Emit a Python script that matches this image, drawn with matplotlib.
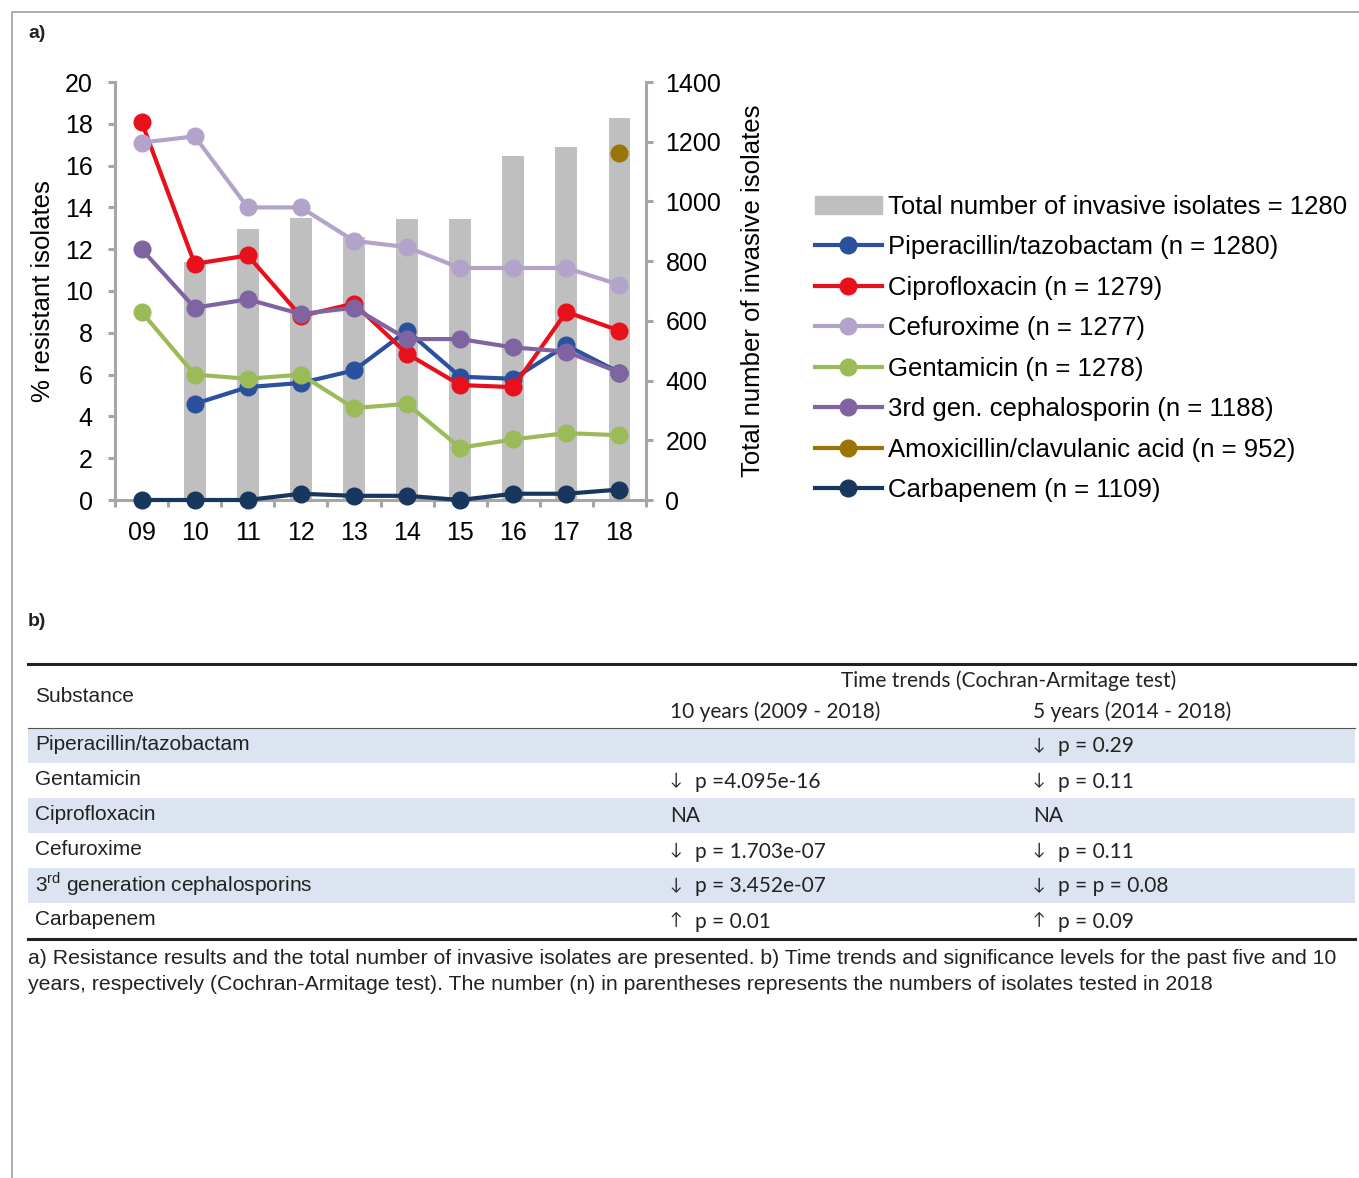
import numpy as np
import matplotlib
matplotlib.use('Agg')
import matplotlib.pyplot as plt
from matplotlib.lines import Line2D
from matplotlib.patches import Patch, Rectangle

plt.rcParams['font.family'] = ['Liberation Sans', 'DejaVu Sans']

# ---- data (panel a) ----
years = ['09', '10', '11', '12', '13', '14', '15', '16', '17', '18']
total_isolates = [0, 796, 907, 945, 882, 941, 941, 1153, 1182, 1280]

pip_taz = [np.nan, 4.6, 5.4, 5.6, 6.2, 8.1, 5.9, 5.8, 7.4, 6.1]
cipro = [18.1, 11.3, 11.7, 8.8, 9.4, 7.0, 5.5, 5.4, 9.0, 8.1]
cefuroxime = [17.1, 17.4, 14.0, 14.0, 12.4, 12.1, 11.1, 11.1, 11.1, 10.3]
gentamicin = [9.0, 6.0, 5.8, 6.0, 4.4, 4.6, 2.5, 2.9, 3.2, 3.1]
ceph3 = [12.0, 9.2, 9.6, 8.9, 9.2, 7.7, 7.7, 7.3, 7.1, 6.1]
amoxclav = [np.nan] * 9 + [16.6]
carbapenem = [0.0, 0.0, 0.0, 0.3, 0.2, 0.2, 0.0, 0.3, 0.3, 0.5]

series = [
    ('Piperacillin/tazobactam (n = 1280)', pip_taz, '#2A509E'),
    ('Ciprofloxacin (n = 1279)', cipro, '#E8111B'),
    ('Cefuroxime (n = 1277)', cefuroxime, '#B3A3CA'),
    ('Gentamicin (n = 1278)', gentamicin, '#9BBB59'),
    ('3rd gen. cephalosporin (n = 1188)', ceph3, '#8064A2'),
    ('Amoxicillin/clavulanic acid (n = 952)', amoxclav, '#9C7405'),
    ('Carbapenem (n = 1109)', carbapenem, '#17375E'),
]
bar_label = 'Total number of invasive isolates = 1280'

# ---- data (panel b) ----
substances = ['Piperacillin/tazobactam', 'Gentamicin', 'Ciprofloxacin', 'Cefuroxime',
              r'3$^{\mathregular{rd}}$ generation cephalosporins', 'Carbapenem']
trend_10y = ['', '↓', '', '↓', '↓', '↑']
p_10y = ['', 'p =4.095e-16', 'NA', 'p = 1.703e-07', 'p = 3.452e-07', 'p = 0.01']
trend_5y = ['↓', '↓', '', '↓', '↓', '↑']
p_5y = ['p = 0.29', 'p = 0.11', 'NA', 'p = 0.11', 'p = p = 0.08', 'p = 0.09']

caption = ['a) Resistance results and the total number of invasive isolates are presented. '
           'b) Time trends and significance levels for the past five and 10',
           'years, respectively (Cochran-Armitage test). The number (n) in parentheses '
           'represents the numbers of isolates tested in 2018']

W, H = 1359, 1178
fig = plt.figure(figsize=(W / 100, H / 100), dpi=100)

spine_col = '#A6A6A6'
x = np.arange(len(years))

ax = fig.add_axes([115 / W, 1 - 500 / H, 531 / W, 418 / H])
ax2 = ax.twinx()
ax.set_zorder(ax2.get_zorder() + 1)
ax.patch.set_visible(False)

ax2.bar(x, total_isolates, width=0.41, color='#BFBFBF', zorder=1)
ax2.set_ylim(0, 1400)
ax2.set_yticks(range(0, 1401, 200))

for name, vals, col in series:
    ax.plot(x, vals, color=col, lw=3, marker='o', ms=12, label=name, clip_on=False)

ax.set_ylim(0, 20)
ax.set_yticks(range(0, 21, 2))
ax.set_xlim(-0.5, 9.5)
ax.set_xticks(np.arange(-0.5, 10, 1))
ax.set_xticklabels([])
ax.set_xticks(x, minor=True)
ax.set_xticklabels(years, minor=True)

for a in (ax, ax2):
    for s in a.spines.values():
        s.set_visible(False)
ax.spines['left'].set_visible(True)
ax.spines['bottom'].set_visible(True)
ax2.spines['right'].set_visible(True)
for s in (ax.spines['left'], ax.spines['bottom'], ax2.spines['right']):
    s.set_color(spine_col)
    s.set_linewidth(2.2)
    s.set_zorder(0.5)

ax.tick_params(axis='y', which='major', length=5, width=2.2, color=spine_col, labelsize=18, pad=11)
ax.tick_params(axis='x', which='major', length=5, width=2.2, color=spine_col, direction='out')
ax.tick_params(axis='x', which='minor', length=0, labelsize=18, pad=15)
ax2.tick_params(axis='y', length=5, width=2.2, color=spine_col, labelsize=18, pad=9)

ax.set_ylabel('% resistant isolates', fontsize=18.5, labelpad=7)
ax2.set_ylabel('Total number of invasive isolates', fontsize=18.5, labelpad=14)

handles = [Patch(color='#BFBFBF')] + [
    Line2D([], [], color=c, lw=3, marker='o', ms=12) for _, _, c in series]
labels = [bar_label] + [n for n, _, _ in series]
fig.legend(handles, labels, loc='upper left', bbox_to_anchor=(815 / W, 1 - 195 / H),
           frameon=False, fontsize=18.5, handlelength=2.6, handletextpad=0.25,
           labelspacing=0.64, borderpad=0, borderaxespad=0)

# ---- overlay for frame, labels, table and caption ----
ov = fig.add_axes([0, 0, 1, 1], zorder=-5)
ov.set_xlim(0, W)
ov.set_ylim(H, 0)
ov.axis('off')

ov.plot([12, 12, W], [H, 12, 12], color='#A0A0A0', lw=1.2)
ov.text(28, 33, 'a)', fontsize=14, fontweight='bold', va='center', color='#222222')
ov.text(28, 622, 'b)', fontsize=14, fontweight='bold', va='center', color='#222222')

tx0, tx1 = 28, 1355
row_h = 35
row_top = 728
col10, col5 = 670, 1033
tfont = ['Lato', 'DejaVu Sans']
tcol = '#222222'

for i in range(len(substances)):
    if i % 2 == 0:
        ov.add_patch(Rectangle((tx0, row_top + i * row_h), tx1 - tx0, row_h,
                               facecolor='#DDE4F1', edgecolor='none'))

ov.plot([tx0, tx1], [664, 664], color='#222222', lw=2.2)
ov.plot([tx0, tx1], [row_top, row_top], color='#555555', lw=0.8)
ov.plot([tx0, tx1], [row_top + 6 * row_h + 1, row_top + 6 * row_h + 1], color='#222222', lw=2.2)

ov.text(35, 697, 'Substance', fontsize=15, va='center', color=tcol)
ov.text(1009, 681, 'Time trends (Cochran-Armitage test)', fontsize=15, va='center',
        ha='center', family=tfont, color=tcol)
ov.text(col10, 712, '10 years (2009 - 2018)', fontsize=15, va='center', family=tfont, color=tcol)
ov.text(col5, 712, '5 years (2014 - 2018)', fontsize=15, va='center', family=tfont, color=tcol)

for i, name in enumerate(substances):
    yc = row_top + i * row_h + row_h / 2
    ov.text(35, yc - 1, name, fontsize=15, va='center', color=tcol)
    for cx, arr, pv in ((col10, trend_10y[i], p_10y[i]), (col5, trend_5y[i], p_5y[i])):
        if arr:
            ov.text(cx, yc, arr, fontsize=12, va='center', family=tfont, color=tcol)
            ov.text(cx + 25, yc + 1, pv, fontsize=15, va='center', family=tfont, color=tcol)
        else:
            ov.text(cx, yc, pv, fontsize=15, va='center', family=tfont, color=tcol)

ov.text(28, 958, caption[0], fontsize=15.3, va='center', color=tcol)
ov.text(28, 984, caption[1], fontsize=15.3, va='center', color=tcol)

fig.savefig('out.png', dpi=100)
